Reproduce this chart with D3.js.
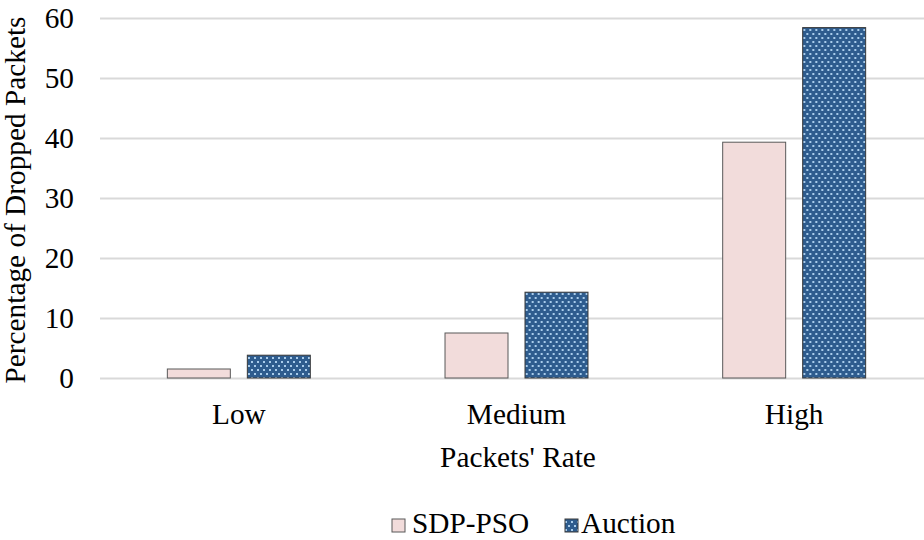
<!DOCTYPE html>
<html>
<head>
<meta charset="utf-8">
<script src="https://cdn.jsdelivr.net/npm/d3@7"></script>
</head>
<body style="margin:0">
<svg id="chart" width="924" height="540"></svg>
<script>
// Packet drop comparison by traffic rate
const categories = ["Low", "Medium", "High"];
const seriesNames = ["SDP-PSO", "Auction"];
const sdpPso = [1.5, 7.5, 39.3];
const auction = [3.8, 14.3, 58.4];
const yTicks = [0, 10, 20, 30, 40, 50, 60];

const FONT = "Liberation Serif";
const FS = "29.3px";
const seriesValues = [sdpPso, auction];
const rows = categories.map((c, i) => ({
  category: c,
  values: seriesNames.map((s, j) => ({ series: s, value: seriesValues[j][i] }))
}));

const svg = d3.select("#chart").style("font-family", FONT);
const W = 924;
const plot = { left: 100, right: 933, top: 18, bottom: 378 };

const x0 = d3.scaleBand().domain(categories).range([plot.left, plot.right]).padding(0);
const x1 = d3.scaleBand().domain(seriesNames).range([0, x0.bandwidth()])
  .paddingInner(0.2125).paddingOuter(0.842);
const y = d3.scaleLinear().domain([0, 60]).range([plot.bottom, plot.top]);

// Dotted fill for the Auction series
const defs = svg.append("defs");
const pat = defs.append("pattern")
  .attr("id", "dots").attr("patternUnits", "userSpaceOnUse")
  .attr("width", 6).attr("height", 8);
pat.append("rect").attr("width", 6).attr("height", 8).attr("fill", "#2E5C8E");
pat.append("rect").attr("x", 1).attr("y", 1).attr("width", 2).attr("height", 2).attr("fill", "#A9CCEB");
pat.append("rect").attr("x", 4).attr("y", 5).attr("width", 2).attr("height", 2).attr("fill", "#A9CCEB");

const fills = { "SDP-PSO": "#F2DCDB", "Auction": "url(#dots)" };
const strokes = { "SDP-PSO": "#595959", "Auction": "#3a3a3a" };

// Horizontal gridlines and value labels
const yAxis = d3.axisLeft(y).tickValues(yTicks).tickSize(-(W - plot.left)).tickPadding(26).tickFormat(d3.format("d"));
const gy = svg.append("g").attr("transform", `translate(${plot.left},0)`).call(yAxis);
gy.attr("font-family", null).attr("font-size", null);
gy.select(".domain").remove();
gy.selectAll(".tick line").attr("stroke", "#D9D9D9").attr("stroke-width", 2);
gy.selectAll(".tick text").style("font-size", FS).style("font-family", FONT).attr("fill", "#000");

// Bars
const groups = svg.append("g").selectAll("g").data(rows).join("g")
  .attr("transform", d => `translate(${x0(d.category)},0)`);
groups.selectAll("rect").data(d => d.values).join("rect")
  .attr("x", d => x1(d.series))
  .attr("y", d => y(d.value))
  .attr("width", x1.bandwidth())
  .attr("height", d => y(0) - y(d.value))
  .attr("fill", d => fills[d.series])
  .attr("stroke", d => strokes[d.series])
  .attr("stroke-width", 1);

// Category axis
const xAxis = d3.axisBottom(x0).tickSize(0).tickPadding(25);
const gx = svg.append("g").attr("transform", `translate(0,${plot.bottom})`).call(xAxis);
gx.attr("font-family", null).attr("font-size", null);
gx.select(".domain").remove();
gx.selectAll(".tick text").style("font-size", FS).style("font-family", FONT).attr("fill", "#000");

// Axis titles
svg.append("text").attr("x", 518).attr("y", 467).attr("text-anchor", "middle")
  .style("font-size", FS).style("font-family", FONT).text("Packets' Rate");
svg.append("text").attr("transform", "translate(25,200) rotate(-90)")
  .attr("text-anchor", "middle").style("font-size", FS).style("font-family", FONT)
  .text("Percentage of Dropped Packets");

// Legend
const legendItems = [
  { name: "SDP-PSO", sx: 392, tx: 412 },
  { name: "Auction", sx: 565, tx: 581 }
];
const lg = svg.append("g");
legendItems.forEach(it => {
  lg.append("rect").attr("x", it.sx).attr("y", 519).attr("width", 13).attr("height", 13)
    .attr("fill", fills[it.name]).attr("stroke", strokes[it.name]).attr("stroke-width", 1);
  lg.append("text").attr("x", it.tx).attr("y", 533)
    .style("font-size", FS).style("font-family", FONT).text(it.name);
});
</script>
</body>
</html>
